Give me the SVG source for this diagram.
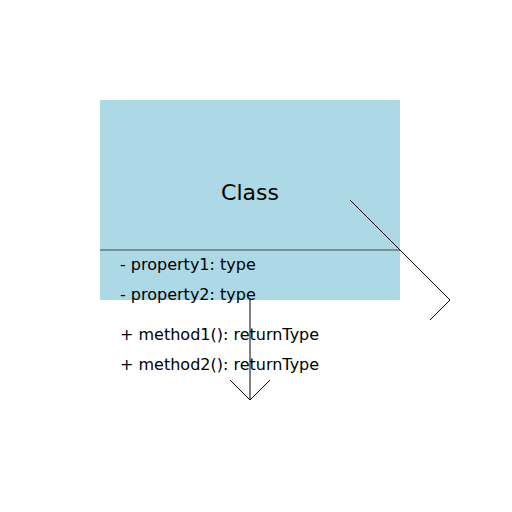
<svg xmlns="http://www.w3.org/2000/svg" width="512" height="512" viewBox="0 0 512 512">
<style>
text{font-family:"DejaVu Sans",sans-serif;fill:#000}
.m{font-size:16px}
.c{fill:none;stroke:#000;stroke-width:1}
</style>
<rect width="512" height="512" fill="#fff"/>
<g id="class">
<rect x="100" y="100" width="300" height="200" fill="#ADD8E6"/>
<line x1="100" y1="250" x2="400" y2="250" stroke="#444" stroke-width="1.2"/>
<text x="250" y="200" font-size="22" text-anchor="middle">Class</text>
<text class="m" x="120" y="270">- property1: type</text>
<text class="m" x="120" y="300">- property2: type</text>
<text class="m" x="120" y="340">+ method1(): returnType</text>
<text class="m" x="120" y="370">+ method2(): returnType</text>
</g>
<g id="connectors">
<path class="c" d="M250 300V400M230 380L250 400L270 380"/>
<path class="c" d="M350 200L450 300L430 320"/>
</g>
</svg>
